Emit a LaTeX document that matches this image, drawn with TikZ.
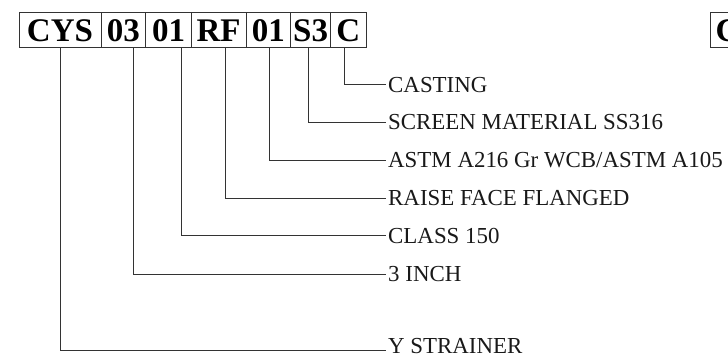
\documentclass[tikz,border=0pt]{standalone}
\usepackage{fontspec}
\setmainfont{Liberation Serif}
\begin{document}
\begin{tikzpicture}[x=1pt,y=-1pt,
  codebox/.style={draw=black!80, line width=0.8pt, inner sep=0pt, minimum height=35pt,
    text height=22.3pt, text depth=0pt, font=\fontsize{33}{33}\selectfont\bfseries},
  lbl/.style={anchor=west, inner xsep=2pt, inner ysep=0pt, text height=15.2pt, text depth=0pt,
    font=\fontsize{22.9}{23}\selectfont, text=black!90},
  conn/.style={draw=black!80, line width=0.8pt}]
\useasboundingbox (0,0) rectangle (728,356);
\begin{scope}
\clip (0,0) rectangle (728,356);
% code boxes
\node[codebox, minimum width=82pt] (cys) at (60,30.2) {CYS};
\node[codebox, minimum width=44.7pt] (b03) at (123.35,30.2) {03};
\node[codebox, minimum width=45.6pt] (b01a) at (168.5,30.2) {01};
\node[codebox, minimum width=54.7pt] (rf) at (218.65,30.2) {RF};
\node[codebox, minimum width=44.5pt] (b01b) at (268.25,30.2) {01};
\node[codebox, minimum width=40.2pt] (s3) at (310.6,30.2) {S3};
\node[codebox, minimum width=35.3pt] (c) at (348.35,30.2) {C};
% clipped box at right edge
\node[codebox, minimum width=35.3pt] (c2) at (727.65,30.2) {C};
\end{scope}
% labels
\node[lbl] (casting) at (386,84.5) {CASTING};
\node[lbl] (screen) at (386,122) {SCREEN MATERIAL SS316};
\node[lbl] (astm) at (386,160) {ASTM A216 Gr WCB/ASTM A105};
\node[lbl] (raise) at (386,198) {RAISE FACE FLANGED};
\node[lbl] (class) at (386,235.5) {CLASS 150};
\node[lbl] (inch) at (386,274) {3 INCH};
\node[lbl] (ystr) at (386,345.5) {Y STRAINER};
% connectors
\draw[conn] ([xshift=-3.85pt]c.south) |- (casting.west);
\draw[conn] ([xshift=-2.3pt]s3.south) |- (screen.west);
\draw[conn] ([xshift=1pt]b01b.south) |- (astm.west);
\draw[conn] ([xshift=6.35pt]rf.south) |- (raise.west);
\draw[conn] ([xshift=13.2pt]b01a.south) |- (class.west);
\draw[conn] ([xshift=10pt]b03.south) |- (inch.west);
\draw[conn] ([xshift=0.7pt]cys.south) |- ([yshift=-4.5pt]ystr.west);
\end{tikzpicture}
\end{document}
